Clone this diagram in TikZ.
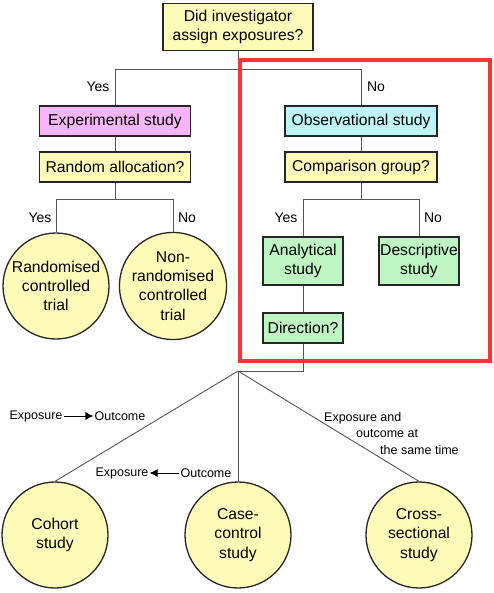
\documentclass[tikz,border=0pt]{standalone}
\usepackage{fontspec}
\setmainfont{Liberation Sans}
\usetikzlibrary{arrows.meta}

\definecolor{qyellow}{HTML}{FFFBB8}
\definecolor{exppink}{HTML}{F7B6F7}
\definecolor{obscyan}{HTML}{BDF6F6}
\definecolor{anagreen}{HTML}{BFF5C3}
\definecolor{linkgray}{HTML}{555555}
\definecolor{framered}{HTML}{FF3333}

\begin{document}
\begin{tikzpicture}[x=1pt,y=-1pt,font=\fontsize{15.7}{19.3}\selectfont,
   box/.style={draw=black!85,line width=1.3pt,fill=qyellow,align=center,inner sep=0pt,minimum height=30},
   design/.style={circle,draw=black!85,line width=1.3pt,fill=qyellow,align=center,inner sep=0pt,minimum size=106},
   link/.style={draw=linkgray,line width=0.9pt},
   answer/.style={font=\fontsize{14}{16}\selectfont},
   note/.style={font=\fontsize{12.5}{16.5}\selectfont,inner sep=1pt}]
  \useasboundingbox (0,0) rectangle (493,593);
  % grid in pixels of the original figure, y grows downwards

  % ---- question : who assigned exposure ----
  \node[box,minimum width=150,minimum height=47] (assign) at (238,27) {Did investigator\\assign exposures?};
  \coordinate (j0) at (238,69);

  % ---- left branch : experimental ----
  \node[box,fill=exppink,minimum width=151] (exp) at (115,121) {Experimental study};
  \node[box,minimum width=151] (rand) at (115,167) {Random allocation?};
  \coordinate (j1) at (115,199);
  \node[design] (rct) at (56,286) {Randomised\\controlled\\trial};
  \node[design] (nrct) at (173,286) {Non-\\randomised\\controlled\\trial};

  % ---- right branch : observational ----
  \node[box,fill=obscyan,minimum width=152] (obs) at (361,121) {Observational study};
  \node[box,minimum width=152] (comp) at (361,167) {Comparison group?};
  \coordinate (j2) at (361,199);
  \node[box,fill=anagreen,minimum width=80,minimum height=48] (ana) at (303,261) {Analytical\\study};
  \node[box,fill=anagreen,minimum width=80,minimum height=48] (desc) at (419,261) {Descriptive\\study};
  \node[box,fill=anagreen,minimum width=80] (dir) at (303,328) {Direction?};
  \coordinate (j3) at (238,371);

  % ---- analytical designs ----
  \node[design] (cohort) at (55,535) {Cohort\\study};
  \node[design] (case) at (238,535) {Case-\\control\\study};
  \node[design] (cross) at (419,535) {Cross-\\sectional\\study};

  % ---- connectors ----
  \draw[link] (assign) -- (j0);
  \draw[link] (j0) -| (exp);
  \draw[link] (j0) -| (obs);
  \draw[link] (exp) -- (rand);
  \draw[link] (rand) -- (j1);
  \draw[link] (j1) -- ++(-59,0) -- (rct);
  \draw[link] (j1) -- ++(58,0) -- (nrct);
  \draw[link] (obs) -- (comp);
  \draw[link] (comp) -- (j2);
  \draw[link] (j2) -| (ana);
  \draw[link] (j2) -| (desc);
  \draw[link] (ana) -- (dir);
  \draw[link] (dir) |- (j3);
  \draw[link] (j3) -- (cohort.north);
  \draw[link] (j3) -- (case.north);
  \draw[link] (j3) -- (cross.north);

  % ---- yes / no ----
  \node[answer] (yes0) at (98,87) {Yes};
  \node[answer] (no0) at (376,87) {No};
  \node[answer] (yes1) at (40,218) {Yes};
  \node[answer] (no1) at (187,218) {No};
  \node[answer] (yes2) at (286,218) {Yes};
  \node[answer] (no2) at (433,218) {No};

  % ---- direction notes ----
  \node[note] (expA) at (36,416) {Exposure};
  \node[note] (outA) at (120,416) {Outcome};
  \draw[-{Latex[length=8pt,width=8pt]},line width=0.9pt] (expA) -- (outA);
  \node[note] (expB) at (122,473) {Exposure};
  \node[note] (outB) at (206,473) {Outcome};
  \draw[-{Latex[length=8pt,width=8pt]},line width=0.9pt] (outB) -- (expB);
  \node[note,anchor=north west,align=left] (same) at (323,411)
     {Exposure and\\\hspace*{32pt}outcome at\\\hspace*{56pt}the same time};

  % ---- highlight ----
  \draw[framered,line width=3.5pt] (240,60) rectangle (490,361);
\end{tikzpicture}
\end{document}
